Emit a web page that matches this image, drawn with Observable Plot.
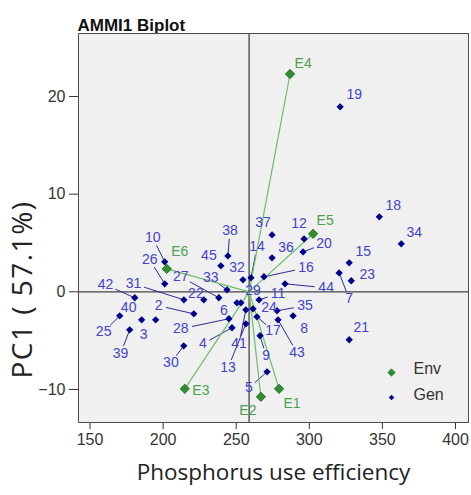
<!DOCTYPE html>
<html><head><meta charset="utf-8">
<script src="https://cdn.jsdelivr.net/npm/d3@7"></script>
<script src="https://cdn.jsdelivr.net/npm/@observablehq/plot@0.6"></script>
<style>body{margin:0;background:#fff;} #chart{width:471px;height:495px;}</style>
</head><body><div id="chart"></div>
<script>
// ---- data ----
const envNames  = ["E1","E2","E3","E4","E5","E6"];
const envX      = [279.3, 266.9, 214.8, 286.8, 302.6, 202.5];
const envY      = [-9.93, -10.75, -9.93, 22.3, 5.94, 2.35];
const envLabelX = [288.2, 258.0, 225.8, 295.8, 310.8, 211.4];
const envLabelY = [-11.46, -12.18, -10.13, 23.4, 7.27, 4.09];

const genNames = ["19","18","34","15","23","7","21","12","20","36","37","14","16","44","38","45","32","10","26","27","33","22","31","42","25","40","3","39","2","28","30","4","6","13","41","29","11","24","17","9","35","8","43","5"];
const genX = [321.1,347.9,362.9,327.3,328.7,320.4,327.3,296.4,295.7,274.5,274.5,260.1,269.0,283.4,244.3,239.5,254.6,201.1,201.1,238.1,243.7,227.8,214.2,180.6,170.3,185.3,194.9,177.1,221.0,245.0,214.1,247.1,250.5,256.6,256.6,253.2,265.6,261.5,264.2,266.3,277.9,288.9,278.6,271.1];
const genY = [18.94,7.68,4.91,2.97,1.13,1.94,-4.91,5.42,4.09,3.48,5.83,1.43,1.54,0.82,3.68,2.66,1.23,3.07,0.82,-0.61,0.20,-0.82,-0.82,-0.61,-2.46,-2.87,-2.87,-3.89,-2.25,-2.76,-5.53,-3.68,-1.13,-3.28,-1.84,-1.13,-0.82,-1.74,-2.56,-4.50,-1.94,-2.46,-2.87,-8.19];
const genLabelX = [330.7,357.5,371.8,336.9,339.6,327.3,335.5,293.0,310.1,284.1,268.3,264.2,297.8,311.5,245.7,231.3,250.5,192.9,190.8,212.1,232.6,222.4,179.8,160.6,159.3,176.4,186.7,170.9,197.0,212.1,205.3,227.2,241.6,244.4,251.9,261.5,278.6,272.4,275.2,270.4,297.1,296.4,291.6,258.7];
const genLabelY = [20.16,8.80,6.04,4.09,1.74,-0.72,-3.68,6.96,4.91,4.50,7.06,4.61,2.46,0.41,6.24,3.68,2.46,5.53,3.28,1.54,1.43,-0.20,0.82,0.72,-4.09,-1.64,-4.40,-6.35,-1.43,-3.79,-7.27,-5.32,-1.94,-7.78,-5.32,0.10,-0.20,-1.64,-3.99,-6.55,-1.43,-3.79,-6.24,-9.83];

const xTicks = [150, 200, 250, 300, 350, 400];
const yTicks = [-10, 0, 10, 20];
const xTitle = "Phosphorus use efficiency";
const yTitle = "PC1 ( 57.1%)";
const chartTitle = "AMMI1 Biplot";
const legendNames = ["Env", "Gen"];

// ---- layout ----
const W = 471, H = 495, mL = 78, mR = 3, mT = 33, mB = 73;
const xDomain = [142.1, 408.9], yDomain = [-13.38, 26.45];
const kx = (W - mL - mR) / (xDomain[1] - xDomain[0]);
const ky = (H - mT - mB) / (yDomain[1] - yDomain[0]);

const env = envNames.map((n, i) => ({name: n, x: envX[i], y: envY[i], lx: envLabelX[i], ly: envLabelY[i]}));
const gen = genNames.map((n, i) => ({name: n, x: genX[i], y: genY[i], lx: genLabelX[i], ly: genLabelY[i]}));
const meanX = d3.mean(envX);

// leader lines: from point to edge of label
const leaders = gen.map(d => {
  const dxp = (d.x - d.lx) * kx, dyp = -(d.y - d.ly) * ky;
  const dist = Math.hypot(dxp, dyp);
  if (dist < 19.5) return null;
  const ux = dxp / dist, uy = dyp / dist;
  const a = 4.3 * d.name.length + 2, b = 7;
  const s = 1 / Math.sqrt((ux / a) ** 2 + (uy / b) ** 2) + 1;
  return {x1: d.x, y1: d.y, x2: d.lx + ux * s / kx, y2: d.ly - uy * s / ky};
}).filter(Boolean);

const genColor = "#00008b", genText = "#4343c9";
const envFill = "#2f8f2f", envText = "#4f9f4f", envLine = "#6cbf6c";

const plot = Plot.plot({
  width: W, height: H,
  marginLeft: mL, marginRight: mR, marginTop: mT, marginBottom: mB,
  style: {fontFamily: "'Liberation Sans', Arial, sans-serif", fontSize: "16px", color: "#333", background: "white", overflow: "visible"},
  x: {domain: xDomain, ticks: xTicks, tickSize: 7, tickPadding: 4, label: null},
  y: {domain: yDomain, ticks: yTicks, tickSize: 9, tickPadding: 4, label: null},
  marks: [
    Plot.frame({fill: "#f0f0f0", stroke: "none"}),
    Plot.ruleX([meanX], {stroke: "#444", strokeWidth: 1.3}),
    Plot.ruleY([0], {stroke: "#444", strokeWidth: 1.3}),
    Plot.link(leaders, {x1: "x1", y1: "y1", x2: "x2", y2: "y2", stroke: "#2d2d8f", strokeWidth: 1}),
    Plot.link(env, {x1: () => meanX, y1: () => 0, x2: "x", y2: "y", stroke: envLine, strokeWidth: 1.2}),
    Plot.dot(gen, {x: "x", y: "y", symbol: "diamond2", r: 3.3, fill: genColor, stroke: "none"}),
    Plot.dot(env, {x: "x", y: "y", symbol: "diamond2", r: 4.2, fill: envFill, stroke: "#1d5e1d", strokeWidth: 0.8}),
    Plot.text(gen, {x: "lx", y: "ly", text: "name", fill: genText, fontSize: 14}),
    Plot.text(env, {x: "lx", y: "ly", text: "name", fill: envText, fontSize: 14}),
    // legend
    Plot.dot([legendNames[0]], {frameAnchor: "bottom-right", dx: -77, dy: -50, symbol: "diamond2", r: 3.3, fill: envFill, stroke: "#1d5e1d", strokeWidth: 0.6}),
    Plot.dot([legendNames[1]], {frameAnchor: "bottom-right", dx: -77, dy: -25, symbol: "diamond2", r: 2.5, fill: genColor}),
    Plot.text([legendNames[0]], {frameAnchor: "bottom-right", dx: -55, dy: -49, textAnchor: "start", fontSize: 16, fill: "#333"}),
    Plot.text([legendNames[1]], {frameAnchor: "bottom-right", dx: -55, dy: -23, textAnchor: "start", fontSize: 16, fill: "#333"}),
    // titles
    Plot.text([chartTitle], {frameAnchor: "top-left", dx: -1, dy: -15, textAnchor: "start", fontSize: 17, fontWeight: "bold", fill: "#111"}),
    Plot.text([xTitle], {frameAnchor: "bottom", dy: 57, fontSize: 22.5, fill: "#222", fontFamily: "'Open Sans', sans-serif"}),
    Plot.frame({stroke: "#4d4d4d", strokeWidth: 1})
  ]
});
// rotated y-axis title
d3.select(plot).append("text")
  .attr("transform", `translate(${mL - 56},${mT + (H - mT - mB) / 2 + 62}) rotate(-90)`)
  .attr("text-anchor", "middle")
  .attr("dy", "0.35em")
  .attr("font-family", "'Open Sans', sans-serif")
  .attr("font-size", 28)
  .attr("letter-spacing", "1.5px")
  .attr("fill", "#222")
  .text(yTitle);
document.getElementById("chart").appendChild(plot);
</script>
</body></html>
